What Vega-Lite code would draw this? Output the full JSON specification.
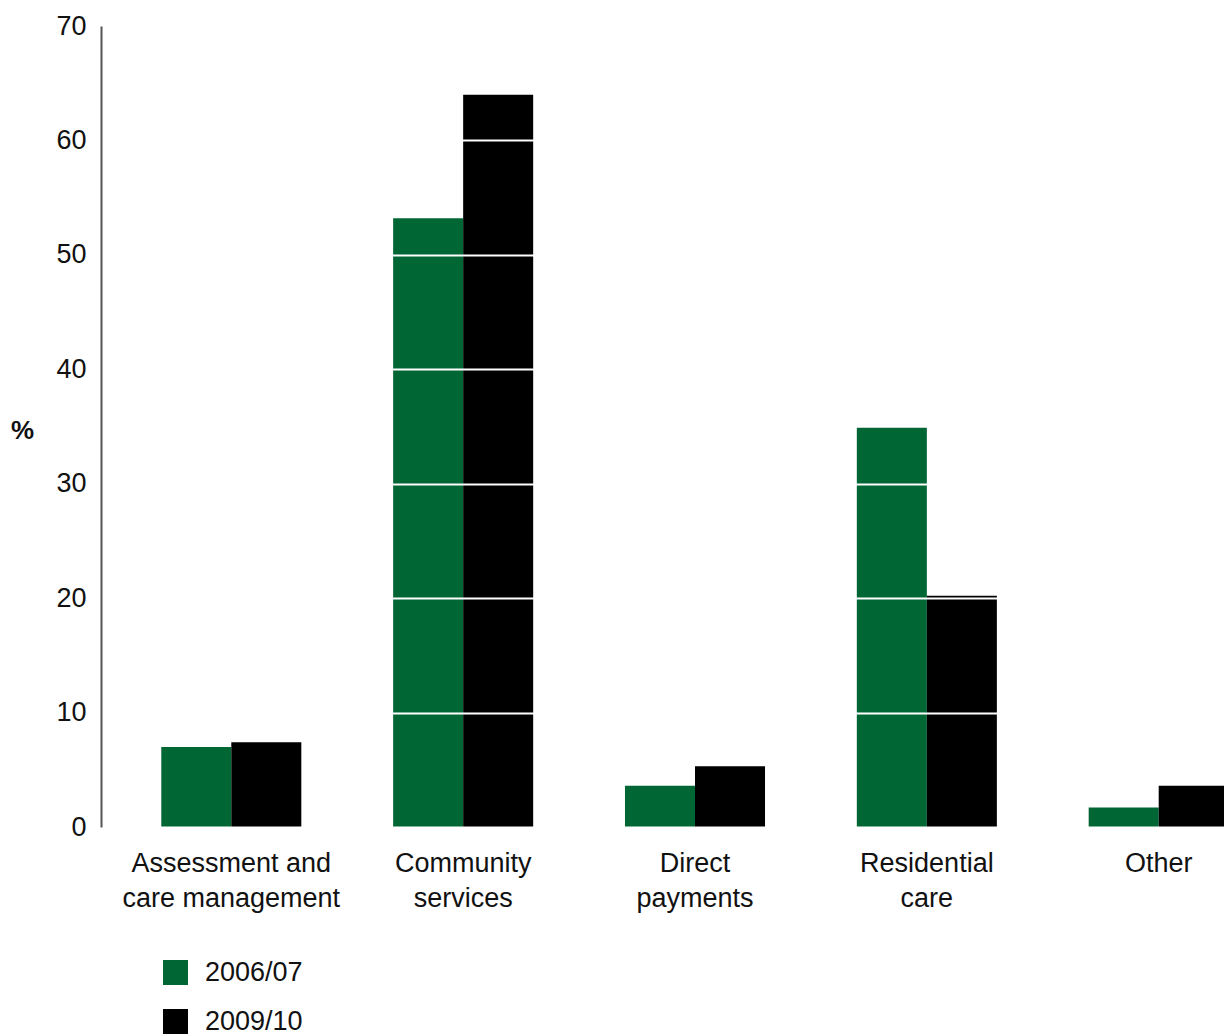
{
  "$schema": "https://vega.github.io/schema/vega-lite/v6.json",
  "autosize": {"type": "none"},
  "padding": {"left": 101, "top": 26, "right": 0, "bottom": 208},
  "width": 1123,
  "height": 801,
  "background": "white",
  "config": {
    "view": {"stroke": null},
    "font": "Liberation Sans"
  },
  "data": {
    "values": [
      {"category": "Assessment and care management", "year": "2006/07", "value": 7.0},
      {"category": "Assessment and care management", "year": "2009/10", "value": 7.4},
      {"category": "Community services", "year": "2006/07", "value": 53.2},
      {"category": "Community services", "year": "2009/10", "value": 64.0},
      {"category": "Direct payments", "year": "2006/07", "value": 3.6},
      {"category": "Direct payments", "year": "2009/10", "value": 5.3},
      {"category": "Residential care", "year": "2006/07", "value": 34.9},
      {"category": "Residential care", "year": "2009/10", "value": 20.2},
      {"category": "Other", "year": "2006/07", "value": 1.7},
      {"category": "Other", "year": "2009/10", "value": 3.6}
    ]
  },
  "mark": {"type": "bar", "clip": true},
  "encoding": {
    "x": {
      "field": "category",
      "type": "nominal",
      "sort": null,
      "scale": {"range": [0, 1188], "paddingInner": 0.396, "paddingOuter": 0.26},
      "axis": {
        "title": null,
        "domain": false,
        "ticks": false,
        "labelAngle": 0,
        "labelFontSize": 27,
        "labelColor": "#111111",
        "labelPadding": 23,
        "labelLineHeight": 35,
        "labelLimit": 400,
        "labelExpr": "datum.value == 'Assessment and care management' ? ['Assessment and', 'care management'] : datum.value == 'Community services' ? ['Community', 'services'] : datum.value == 'Direct payments' ? ['Direct', 'payments'] : datum.value == 'Residential care' ? ['Residential', 'care'] : datum.value"
      }
    },
    "xOffset": {"field": "year", "type": "nominal", "scale": {"paddingInner": 0, "paddingOuter": 0}},
    "y": {
      "field": "value",
      "type": "quantitative",
      "scale": {"domain": [0, 70], "nice": false},
      "axis": {
        "title": "%",
        "titleAngle": 0,
        "titleFontSize": 26,
        "titleFontWeight": "bold",
        "titleColor": "#111111",
        "titleX": -79,
        "titleY": 404,
        "titleAlign": "center",
        "titleBaseline": "middle",
        "values": [0, 10, 20, 30, 40, 50, 60, 70],
        "ticks": false,
        "domainColor": "#555555",
        "domainWidth": 2,
        "labelFontSize": 27,
        "labelColor": "#111111",
        "labelPadding": 15,
        "grid": true,
        "gridColor": "white",
        "gridWidth": 2,
        "gridOpacity": 1,
        "zindex": 1
      }
    },
    "color": {
      "field": "year",
      "type": "nominal",
      "scale": {"domain": ["2006/07", "2009/10"], "range": ["#006633", "#000000"]},
      "legend": {
        "title": null,
        "orient": "none",
        "legendX": 61,
        "legendY": 933,
        "symbolType": "square",
        "symbolSize": 625,
        "symbolStrokeWidth": 0,
        "symbolOpacity": 1,
        "labelFontSize": 27,
        "labelColor": "#111111",
        "labelOffset": 16,
        "rowPadding": 21
      }
    }
  }
}
